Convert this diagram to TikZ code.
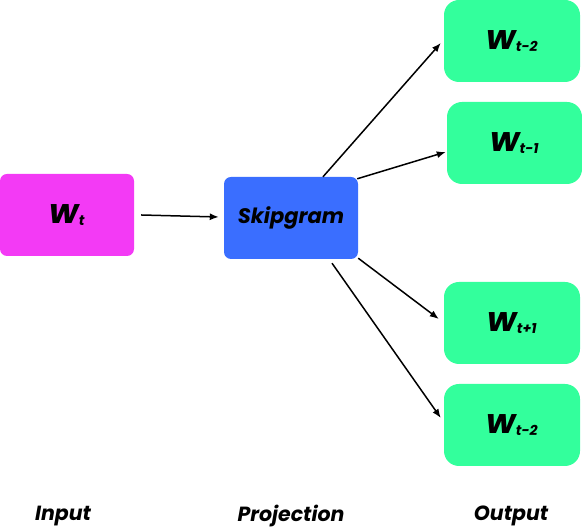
\documentclass[tikz,border=0pt]{standalone}
\usepackage{fontspec}
\setmainfont{Poppins}
\usetikzlibrary{arrows.meta,calc,positioning}
\definecolor{sgpink}{RGB}{243,58,245}
\definecolor{sgblue}{RGB}{58,110,255}
\definecolor{sggreen}{RGB}{51,255,156}
\newcommand{\wordvec}[1]{{\fontsize{34}{36}\selectfont w}{\fontsize{14}{16}\selectfont\raisebox{-1.5pt}{#1}}}
\tikzset{
  wordbox/.style={rectangle,rounded corners=7pt,minimum width=134pt,minimum height=82pt,inner sep=0pt},
  outbox/.style={wordbox,fill=sggreen,rounded corners=15pt,minimum width=136pt},
  layerlabel/.style={font=\fontsize{20.5}{24}\selectfont\bfseries\itshape},
  link/.style={line width=1.5pt,-{Latex[length=9pt,width=7pt]}}
}

\begin{document}
\begin{tikzpicture}[x=1pt,y=1pt,font=\bfseries\itshape]
    \useasboundingbox (0,0) rectangle (582,529);
    % input, projection and output layers
    \node[wordbox,fill=sgpink] (in) at (67,314) {\wordvec{t}};
    \node[wordbox,fill=sgblue,font=\fontsize{21}{24}\selectfont\bfseries\itshape] (skip) at (291,311) {Skipgram};
    \node[outbox] (o1) at (512,488) {\wordvec{t-2}};
    \node[outbox,minimum width=135pt] (o2) at (514.5,386) {\wordvec{t-1}};
    \node[outbox] (o3) at (512,206) {\wordvec{t+1}};
    \node[outbox] (o4) at (512,104) {\wordvec{t-2}};
    % connectors
    \draw[link] ($(in.east)+(7,0)$) -- ($(skip.west)+(-5,1)$);
    \draw[link] ($(skip.north)+(32,0)$) -- ($(o1.west)+(-3,-2)$);
    \draw[link] ($(skip.north east)+(-1,-2)$) -- ($(o2.west)+(-1,-9)$);
    \draw[link] ($(skip.south east)+(0,1)$) -- ($(o3.west)+(-5,4)$);
    \draw[link] ($(skip.south)+(41,-4)$) -- ($(o4.west)+(-3,7)$);
    % layer names
    \node[layerlabel] (lin) at (63,13) {Input};
    \node[layerlabel] (lproj) at (291,13) {Projection};
    \node[layerlabel] (lout) at (511,13) {Output};
\end{tikzpicture}
\end{document}
